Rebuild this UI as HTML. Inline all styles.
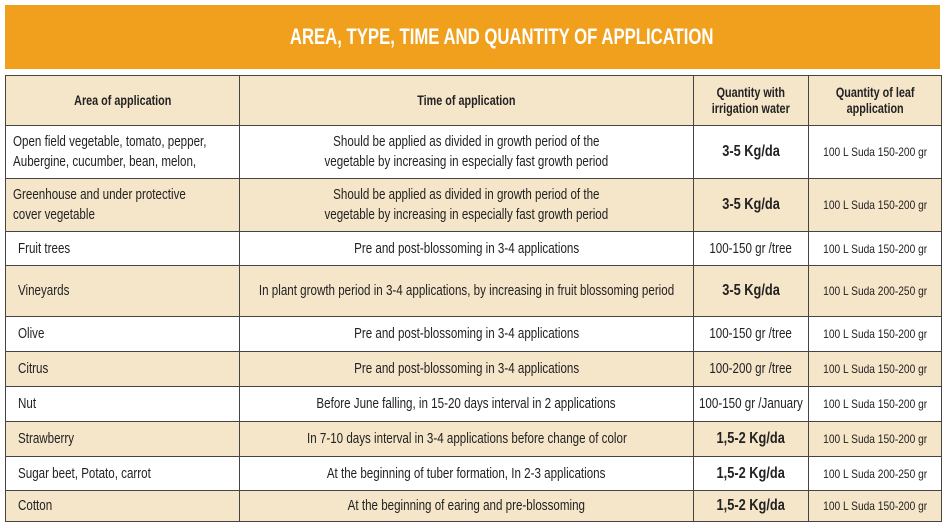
<!DOCTYPE html>
<html><head><meta charset="utf-8"><style>
html,body{margin:0;padding:0;background:#fff;width:947px;height:528px;overflow:hidden}
body{font-family:"Liberation Sans",sans-serif;color:#222}
.banner{position:absolute;left:5px;top:5px;width:935px;height:64px;background:#f0a01c;color:#fff;font-weight:bold;font-size:22px;text-align:center;line-height:64px}
.banner span{display:inline-block;transform:scaleX(0.76);white-space:nowrap;margin-left:58px}
table{position:absolute;left:5px;top:75px;width:936px;border-collapse:collapse;table-layout:fixed}
td{border:1.5px solid #444;padding:0;font-size:14.5px;vertical-align:middle;line-height:20px;white-space:nowrap;overflow:visible}
tr.b td{background:#f5e5c9}
td span{display:inline-block;transform:scaleX(0.8)}
.c1 span,.c1i span{transform-origin:left center}
.c2 span,.c3 span,.c4 span,.h span{transform-origin:center center;margin:0 -80px}
.c1{padding-left:7px}
.c1i{padding-left:12px}
.c2,.c3,.c4{text-align:center}
.q{font-weight:bold;font-size:16px}
.c4{font-size:12px}
.c4 span{transform:scaleX(0.85)}
.h td{font-weight:bold;font-size:13.5px;text-align:center;line-height:16px}
</style></head><body>
<div class="banner"><span>AREA, TYPE, TIME AND QUANTITY OF APPLICATION</span></div>
<table>
<colgroup><col style="width:234px"><col style="width:454px"><col style="width:115px"><col style="width:133px"></colgroup>
<tr class="b h" style="height:50px"><td><span>Area of application</span></td><td><span>Time of application</span></td><td><span>Quantity with<br>irrigation water</span></td><td><span>Quantity of leaf<br>application</span></td></tr>
<tr style="height:53px"><td class="c1"><span>Open field vegetable, tomato, pepper,<br>Aubergine, cucumber, bean, melon,</span></td><td class="c2"><span>Should be applied as divided in growth period of the<br>vegetable by increasing in especially fast growth period</span></td><td class="c3 q"><span>3-5 Kg/da</span></td><td class="c4"><span>100 L Suda 150-200 gr</span></td></tr>
<tr class="b" style="height:53px"><td class="c1"><span>Greenhouse and under protective<br>cover vegetable</span></td><td class="c2"><span>Should be applied as divided in growth period of the<br>vegetable by increasing in especially fast growth period</span></td><td class="c3 q"><span>3-5 Kg/da</span></td><td class="c4"><span>100 L Suda 150-200 gr</span></td></tr>
<tr style="height:34px"><td class="c1i"><span>Fruit trees</span></td><td class="c2"><span>Pre and post-blossoming in 3-4 applications</span></td><td class="c3"><span>100-150 gr /tree</span></td><td class="c4"><span>100 L Suda 150-200 gr</span></td></tr>
<tr class="b" style="height:51px"><td class="c1i"><span>Vineyards</span></td><td class="c2"><span>In plant growth period in 3-4 applications, by increasing in fruit blossoming period</span></td><td class="c3 q"><span>3-5 Kg/da</span></td><td class="c4"><span>100 L Suda 200-250 gr</span></td></tr>
<tr style="height:35px"><td class="c1i"><span>Olive</span></td><td class="c2"><span>Pre and post-blossoming in 3-4 applications</span></td><td class="c3"><span>100-150 gr /tree</span></td><td class="c4"><span>100 L Suda 150-200 gr</span></td></tr>
<tr class="b" style="height:35px"><td class="c1i"><span>Citrus</span></td><td class="c2"><span>Pre and post-blossoming in 3-4 applications</span></td><td class="c3"><span>100-200 gr /tree</span></td><td class="c4"><span>100 L Suda 150-200 gr</span></td></tr>
<tr style="height:35px"><td class="c1i"><span>Nut</span></td><td class="c2"><span>Before June falling, in 15-20 days interval in 2 applications</span></td><td class="c3"><span>100-150 gr /January</span></td><td class="c4"><span>100 L Suda 150-200 gr</span></td></tr>
<tr class="b" style="height:35px"><td class="c1i"><span>Strawberry</span></td><td class="c2"><span>In 7-10 days interval in 3-4 applications before change of color</span></td><td class="c3 q"><span>1,5-2 Kg/da</span></td><td class="c4"><span>100 L Suda 150-200 gr</span></td></tr>
<tr style="height:34px"><td class="c1i"><span>Sugar beet, Potato, carrot</span></td><td class="c2"><span>At the beginning of tuber formation, In 2-3 applications</span></td><td class="c3 q"><span>1,5-2 Kg/da</span></td><td class="c4"><span>100 L Suda 200-250 gr</span></td></tr>
<tr class="b" style="height:31px"><td class="c1i"><span>Cotton</span></td><td class="c2"><span>At the beginning of earing and pre-blossoming</span></td><td class="c3 q"><span>1,5-2 Kg/da</span></td><td class="c4"><span>100 L Suda 150-200 gr</span></td></tr>
</table>
</body></html>
